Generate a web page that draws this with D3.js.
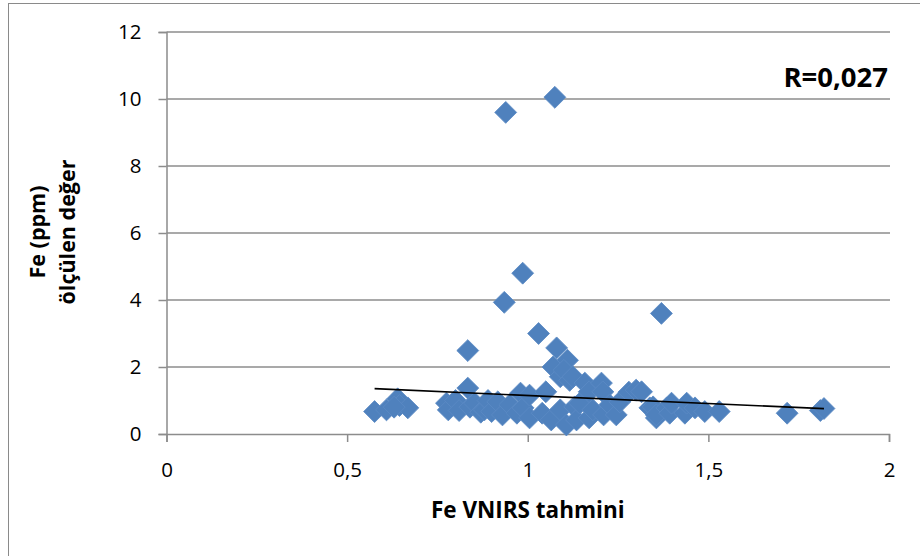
<!DOCTYPE html>
<html>
<head>
<meta charset="utf-8">
<script src="https://cdn.jsdelivr.net/npm/d3@7"></script>
<style>
  html, body { margin: 0; padding: 0; background: #fff; }
  svg { display: block; font-family: "Open Sans", Lato, sans-serif; }
</style>
</head>
<body>
<svg id="chart" width="920" height="556"></svg>
<script>
// Fe: VNIRS estimate (x) vs. measured value in ppm (y)
const predicted = [
  0.939, 1.075, 0.986, 0.935, 1.030, 1.370, 0.834, 1.080, 1.110,
  0.576, 0.609, 0.640, 0.645, 0.668, 0.630,
  0.775, 0.780, 0.800, 0.810, 0.834, 0.840, 0.853, 0.870,
  0.880, 0.890, 0.900, 0.917, 0.930, 0.950, 0.970, 0.980, 0.987, 1.005, 1.005,
  1.040, 1.050, 1.065, 1.070, 1.090, 1.090, 1.100, 1.107, 1.116, 1.125, 1.130,
  1.135, 1.144, 1.158, 1.170, 1.170, 1.180, 1.204, 1.208, 1.210, 1.227,
  1.245, 1.255, 1.280, 1.300, 1.315, 1.338, 1.347, 1.356, 1.356, 1.385,
  1.393, 1.398, 1.435, 1.440, 1.463, 1.490, 1.530, 1.718, 1.810, 1.820
];
const measured = [
  9.60, 10.05, 4.80, 3.93, 3.00, 3.60, 2.49, 2.57, 2.20,
  0.67, 0.72, 1.05, 0.85, 0.78, 0.80,
  0.92, 0.72, 1.00, 0.70, 1.37, 0.80, 0.92, 0.65,
  0.72, 1.00, 0.67, 0.96, 0.57, 0.87, 0.62, 1.22, 0.78, 1.16, 0.48,
  0.62, 1.26, 0.42, 2.00, 1.71, 0.72, 1.90, 0.27, 1.60, 1.71, 0.81,
  0.42, 0.92, 1.52, 1.26, 0.48, 0.72, 1.52, 1.26, 0.57, 0.87,
  0.57, 0.96, 1.25, 1.31, 1.26, 0.78, 0.81, 0.48, 0.57, 0.78,
  0.62, 0.92, 0.62, 0.92, 0.78, 0.67, 0.67, 0.62, 0.70, 0.76
];

// Linear trend of measured on predicted
const trendSlope = -0.48;
const trendIntercept = 1.63;

const xTicks = [0, 0.5, 1, 1.5, 2];
const yTicks = [0, 2, 4, 6, 8, 10, 12];
const xTitle = "Fe VNIRS tahmini";
const yTitleLines = ["Fe (ppm)", "ölçülen değer"];
const rLabel = "R=0,027";

const svg = d3.select("#chart");
const gridColor = "#8c8c8c";
const markerColor = "#4f81bd";
const font = "'Open Sans', Lato, sans-serif";

// outer chart frame
svg.append("rect")
  .attr("x", 8.5).attr("y", 3.5)
  .attr("width", 940).attr("height", 600)
  .attr("fill", "none").attr("stroke", "#8a8a8a").attr("stroke-width", 1);

const plot = { left: 166.5, right: 889, top: 32, bottom: 434 };

const x = d3.scaleLinear().domain([0, 2]).range([plot.left, plot.right]);
const y = d3.scaleLinear().domain([0, 12]).range([plot.bottom, plot.top]);

const fmt = v => String(v).replace(".", ",");

// horizontal gridlines
svg.append("g")
  .selectAll("line")
  .data(yTicks.filter(v => v > 0))
  .join("line")
  .attr("x1", plot.left).attr("x2", plot.right + 1)
  .attr("y1", d => y(d)).attr("y2", d => y(d))
  .attr("stroke", gridColor).attr("stroke-width", 1.5);

// y axis
const yAxis = svg.append("g")
  .attr("transform", `translate(${plot.left},0)`)
  .call(d3.axisLeft(y).tickValues(yTicks).tickFormat(fmt).tickSize(8).tickPadding(17));
yAxis.select(".domain").attr("stroke", gridColor).attr("stroke-width", 1.5);
yAxis.selectAll(".tick line").attr("stroke", gridColor).attr("stroke-width", 1.5);
yAxis.selectAll(".tick text")
  .attr("fill", "#000").attr("font-size", 20.5).attr("font-family", font);

// x axis
const xAxis = svg.append("g")
  .attr("transform", `translate(0,${plot.bottom})`)
  .call(d3.axisBottom(x).tickValues(xTicks).tickFormat(fmt).tickSize(8).tickPadding(20));
xAxis.select(".domain").attr("stroke", gridColor).attr("stroke-width", 1.5);
xAxis.selectAll(".tick line").attr("stroke", gridColor).attr("stroke-width", 1.5);
xAxis.selectAll(".tick text")
  .attr("fill", "#000").attr("font-size", 20.5).attr("font-family", font);

// scatter markers (diamonds)
const points = predicted.map((p, i) => ({ x: p, y: measured[i] }));
const diamond = d3.symbol().type(d3.symbolSquare).size(240);
svg.append("g")
  .selectAll("path")
  .data(points)
  .join("path")
  .attr("d", diamond)
  .attr("transform", d => `translate(${x(d.x)},${y(d.y)}) rotate(45)`)
  .attr("fill", markerColor)
  .attr("stroke", "#5b8ac4").attr("stroke-width", 0.8);

// trend line across the data range
const [xMin, xMax] = d3.extent(predicted);
svg.append("line")
  .attr("x1", x(xMin)).attr("y1", y(trendIntercept + trendSlope * xMin))
  .attr("x2", x(xMax)).attr("y2", y(trendIntercept + trendSlope * xMax))
  .attr("stroke", "#000").attr("stroke-width", 1.6);

// correlation label
svg.append("text")
  .attr("x", 888).attr("y", 87)
  .attr("text-anchor", "end")
  .attr("font-size", 27.5).attr("font-weight", 700)
  .attr("font-family", font)
  .text(rLabel);

// axis titles
svg.append("text")
  .attr("x", (plot.left + plot.right) / 2).attr("y", 518)
  .attr("text-anchor", "middle")
  .attr("font-size", 22.5).attr("font-weight", 700)
  .attr("font-family", font)
  .text(xTitle);

const yTitle = svg.append("text")
  .attr("transform", "translate(0,232) rotate(-90)")
  .attr("text-anchor", "middle")
  .attr("font-size", 21.5).attr("font-weight", 700)
  .attr("font-family", font);
yTitle.selectAll("tspan")
  .data(yTitleLines)
  .join("tspan")
  .attr("x", 0)
  .attr("y", (d, i) => 45 + i * 30)
  .text(d => d);
</script>
</body>
</html>
